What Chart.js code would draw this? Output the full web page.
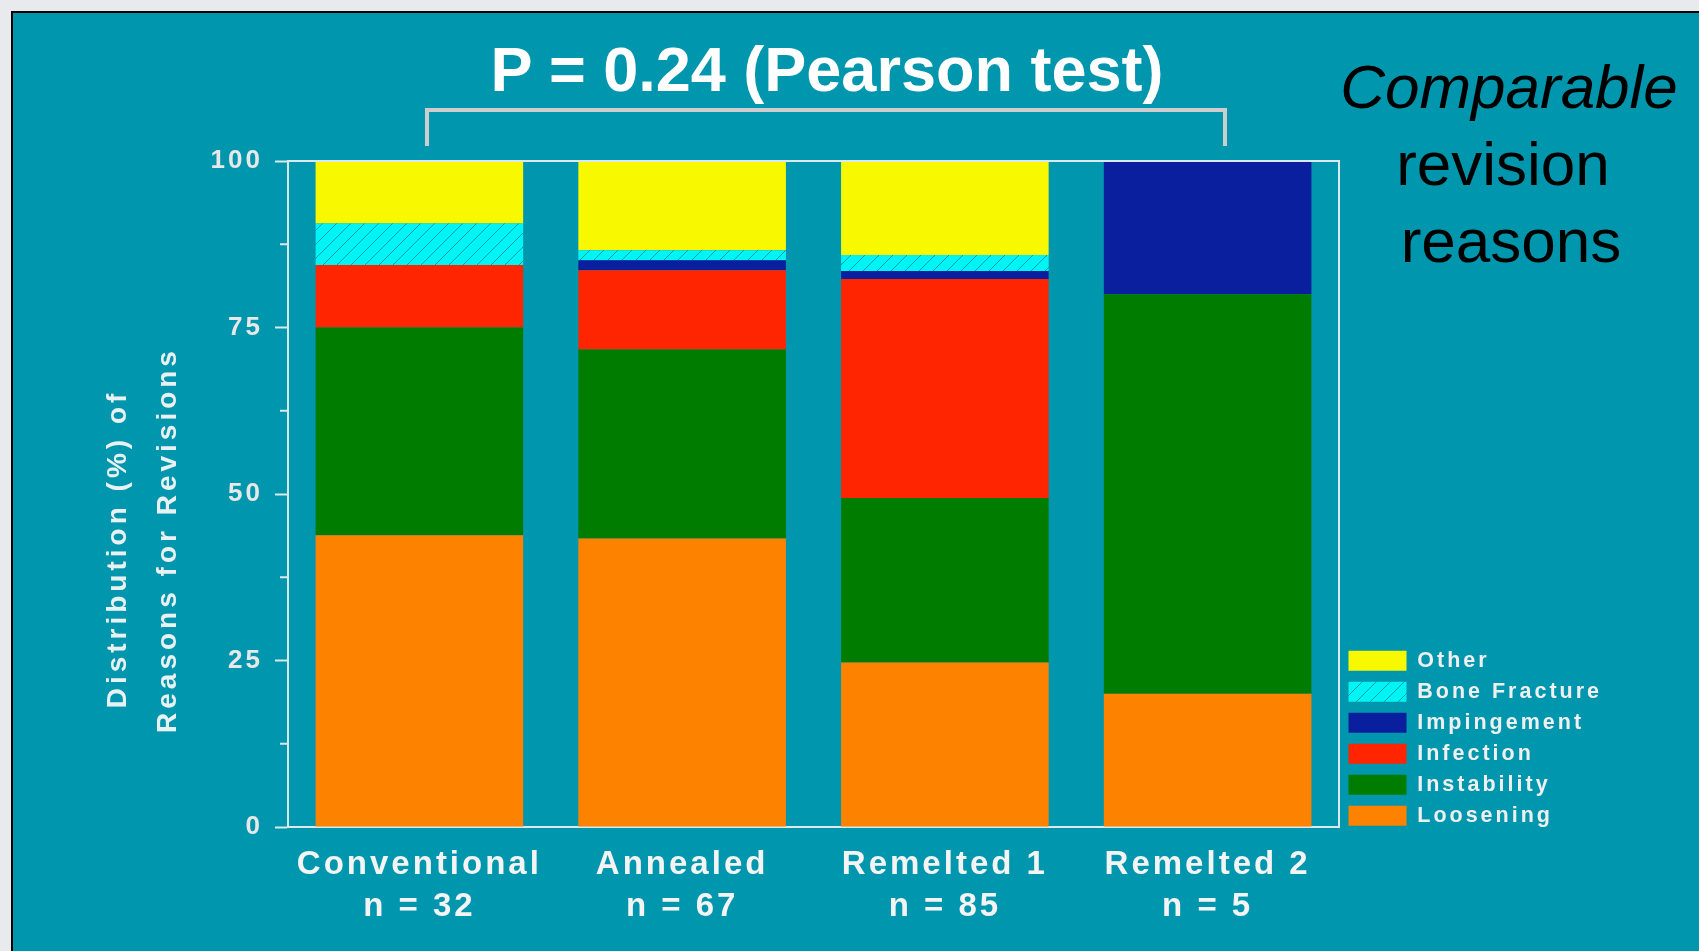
<!DOCTYPE html>
<html>
<head>
<meta charset="utf-8">
<script src="https://cdn.jsdelivr.net/npm/chart.js@4.4.0/dist/chart.umd.min.js"></script>
<style>
  html, body { margin: 0; padding: 0; background: #e9eaee; overflow: hidden; }
  #panel { position: absolute; left: 11px; top: 11px; width: 1700px; height: 960px;
    background: #0096ad; border-left: 2px solid #000; border-top: 2px solid #000; }
  #chart { position: absolute; left: 0; top: 0; }
  .note { position: absolute; font-family: "Liberation Sans", Arial, sans-serif; margin: 0; }
  #pvalue { left: 0; width: 1654px; top: 38px; text-align: center; color: #fff;
    font-weight: bold; font-size: 63px; line-height: 63px; }
  #bracket { left: 425px; top: 108px; width: 794px; height: 34px;
    border: 4px solid #cdcdcd; border-bottom: none; }
  #side { left: 1309px; width: 400px; top: 48px; text-align: center; color: #000;
    font-size: 62px; line-height: 77px; }
  #side span { position: relative; }
</style>
</head>
<body>
<div id="panel"></div>
<div class="note" id="pvalue">P = 0.24 (Pearson test)</div>
<div class="note" id="bracket"></div>
<div class="note" id="side"><i>Comparable</i><br><span style="left:-6px">revision</span><br><span style="left:2px">reasons</span></div>
<canvas id="chart" width="1699" height="951"></canvas>

<script>
// bottom to top in each bar
const groups = [
  ["Conventional", "n = 32"],
  ["Annealed", "n = 67"],
  ["Remelted 1", "n = 85"],
  ["Remelted 2", "n = 5"],
];
const loosening = [43.8, 43.3, 24.7, 20];
const instability = [31.2, 28.4, 24.7, 60];
const infection = [9.4, 11.9, 32.9, 0];
const impingement = [0, 1.5, 1.2, 20];
const boneFracture = [6.2, 1.5, 2.4, 0];
const other = [9.4, 13.4, 14.1, 0];
const yTicks = [0, 25, 50, 75, 100];
const yTitle = ["Distribution (%) of", "Reasons for Revisions"];

const FONT = '"Liberation Sans", Arial, sans-serif';
const frameColor = "#dbe9ec";

// cyan with thin diagonal hatch
function hatch() {
  const c = document.createElement("canvas");
  c.width = 14;
  c.height = 14;
  const g = c.getContext("2d");
  g.fillStyle = "#00f4f4";
  g.fillRect(0, 0, 14, 14);
  g.strokeStyle = "rgba(0,110,135,0.65)";
  g.lineWidth = 1;
  g.beginPath();
  g.moveTo(0, 14); g.lineTo(14, 0);
  g.moveTo(-2, 2); g.lineTo(2, -2);
  g.moveTo(12, 16); g.lineTo(16, 12);
  g.stroke();
  return g.createPattern(c, "repeat");
}

// letter spacing for the chart text (canvas resets it on resize),
// legend kept narrow and lifted to the bottom of the plot
const spacing = {
  id: "spacing",
  beforeLayout(chart) {
    chart.ctx.letterSpacing = "3px";
    const lg = chart.legend;
    if (lg && !lg._wide) {
      const fit = lg.fit.bind(lg);
      lg.fit = function () { fit(); this.width = 360; };
      lg._wide = true;
    }
  },
  afterLayout(chart) {
    if (chart.legend) chart.legend.bottom = chart.chartArea.bottom + 9;
  },
  beforeDraw(chart) {
    chart.ctx.letterSpacing = "3px";
  },
};

// top / right frame lines, minor ticks on y, y title
const frame = {
  id: "frame",
  afterDatasetsDraw(chart) {
    const { ctx, chartArea: a, scales } = chart;
    ctx.save();
    ctx.strokeStyle = frameColor;
    ctx.lineWidth = 2;
    ctx.beginPath();
    ctx.moveTo(a.left, a.top);
    ctx.lineTo(a.right, a.top);
    ctx.lineTo(a.right, a.bottom);
    for (let i = 0; i < yTicks.length - 1; i++) {
      const y = scales.y.getPixelForValue((yTicks[i] + yTicks[i + 1]) / 2);
      ctx.moveTo(a.left - 8, y);
      ctx.lineTo(a.left, y);
    }
    ctx.stroke();
    ctx.restore();
  },
  afterDraw(chart) {
    const ctx = chart.ctx;
    ctx.save();
    ctx.letterSpacing = "4px";
    ctx.fillStyle = "#eaf1f3";
    ctx.font = "bold 28px " + FONT;
    ctx.textAlign = "center";
    ctx.textBaseline = "middle";
    [[118, 549], [168, 540]].forEach((p, i) => {
      ctx.save();
      ctx.translate(p[0], p[1]);
      ctx.rotate(-Math.PI / 2);
      ctx.fillText(yTitle[i], 0, 0);
      ctx.restore();
    });
    ctx.restore();
  },
};

const ctx = document.getElementById("chart");
const chart = new Chart(ctx, {
  type: "bar",
  data: {
    labels: groups,
    datasets: [
      { label: "Loosening", data: loosening, backgroundColor: "#fd8200" },
      { label: "Instability", data: instability, backgroundColor: "#007d00" },
      { label: "Infection", data: infection, backgroundColor: "#ff2500" },
      { label: "Impingement", data: impingement, backgroundColor: "#0a1f9e" },
      { label: "Bone Fracture", data: boneFracture, backgroundColor: hatch() },
      { label: "Other", data: other, backgroundColor: "#f8f800" },
    ],
  },
  options: {
    responsive: false,
    animation: false,
    layout: { padding: { top: 161, left: 0, right: 0, bottom: 0 } },
    datasets: {
      bar: { barPercentage: 0.79, categoryPercentage: 1.0, borderWidth: 0 },
    },
    plugins: {
      title: { display: false },
      tooltip: { enabled: false },
      legend: {
        position: "right",
        align: "end",
        reverse: true,
        labels: {
          boxWidth: 58,
          boxHeight: 20,
          padding: 9.5,
          color: "#f0f0f0",
          font: { family: FONT, size: 21.5, weight: "bold" },
        },
      },
    },
    scales: {
      x: {
        stacked: true,
        grid: { display: false, drawTicks: false },
        border: { display: true, color: frameColor, width: 2 },
        ticks: {
          color: "#f4f4f4",
          padding: 17,
          font: { family: FONT, size: 33, weight: "bold", lineHeight: 1.28 },
        },
        afterFit(scale) { scale.height = 124; },
      },
      y: {
        stacked: true,
        min: 0,
        max: 100,
        afterBuildTicks(scale) { scale.ticks = yTicks.map((v) => ({ value: v })); },
        grid: { drawOnChartArea: false, tickLength: 13, tickColor: frameColor, tickWidth: 2 },
        border: { display: true, color: frameColor, width: 2 },
        ticks: {
          color: "#e8e8e8",
          padding: 12,
          font: { family: FONT, size: 26, weight: "bold" },
        },
        afterFit(scale) { scale.width = 288; },
      },
    },
  },
  plugins: [spacing, frame],
});
</script>
</body>
</html>
